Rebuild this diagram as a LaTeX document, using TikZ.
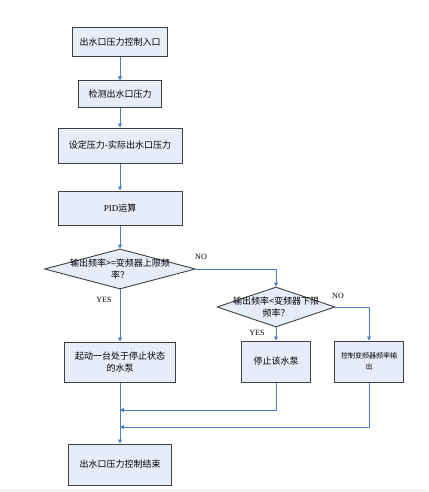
\documentclass[tikz,border=0pt]{standalone}
\usepackage{fontspec}
\setmainfont{Liberation Serif}
\newfontfamily\cjk{Noto Sans CJK SC}
\usetikzlibrary{shapes.geometric,arrows.meta}
\definecolor{boxfill}{RGB}{230,237,248}
\definecolor{boxline}{RGB}{64,64,64}
\definecolor{flowblue}{RGB}{74,126,199}
\tikzset{
    procbox/.style={draw=boxline, line width=1pt, fill=boxfill, inner sep=1pt, align=center, font=\cjk\fontsize{9}{12}\selectfont},
    decbox/.style={diamond, draw=boxline, line width=0.9pt, fill=boxfill, inner sep=0pt},
    flow/.style={draw=flowblue, line width=0.9pt, -{Triangle[length=4pt,width=4pt]}},
    tag/.style={font=\fontsize{8}{9}\selectfont}
}
\begin{document}
\begin{tikzpicture}[x=1pt, y=-1pt]
    \useasboundingbox (0,0) rectangle (428,492);
    \draw[color={rgb,255:red,236;green,236;blue,228}, line width=1.5pt] (0,490.5) -- (428,490.5);

    % main column
    \node[procbox, minimum width=95pt, minimum height=29pt] (entry) at (120,42.5) {出水口压力控制入口};
    \node[procbox, minimum width=83pt, minimum height=27pt] (detect) at (120,94.5) {检测出水口压力};
    \node[procbox, minimum width=124pt, minimum height=35pt] (diff) at (120,145.5) {设定压力-实际出水口压力};
    \node[procbox, minimum width=124pt, minimum height=34pt] (pid) at (120,208) {{\rmfamily PID}运算};
    \node[decbox, minimum width=151pt, minimum height=40pt,
        label={[align=center, font=\cjk\fontsize{9}{12}\selectfont]center:{输出频率>=变频器上限频\\率？}}] (upper) at (120,269) {};
    \node[procbox, minimum width=111pt, minimum height=40pt] (startpump) at (120,362) {起动一台处于停止状态\\的水泵};
    \node[procbox, minimum width=103pt, minimum height=41pt] (finish) at (120,464.5) {出水口压力控制结束};

    % right branch
    \node[decbox, minimum width=118pt, minimum height=40pt,
        label={[align=center, font=\cjk\fontsize{9}{12}\selectfont]center:{输出频率<变频器下限\\频率？}}] (lower) at (276,307) {};
    \node[procbox, minimum width=69pt, minimum height=41pt] (stoppump) at (276,361.5) {停止该水泵};
    \node[procbox, minimum width=69pt, minimum height=41pt,
        font=\cjk\fontsize{7}{11}\selectfont] (freqout) at (369,361.5) {控制变频器频率输\\出};

    \coordinate (join1) at (120,410);
    \coordinate (join2) at (120,427);

    \draw[flow] (entry) -- (detect);
    \draw[flow] (detect) -- (diff);
    \draw[flow] (diff) -- (pid);
    \draw[flow] (pid) -- (upper);
    \draw[flow] (upper) -- (startpump);
    \draw[flow] (upper.east) -| (lower.north);
    \draw[flow] (lower) -- (stoppump);
    \draw[flow] (lower.east) -| (freqout.north);
    \draw[flow] (stoppump.south) |- (join1);
    \draw[flow] (freqout.south) |- (join2);
    \draw[flow] (startpump) -- (finish);

    \node[tag] (no1) at (201,257) {NO};
    \node[tag] (yes1) at (104,300) {YES};
    \node[tag] (no2) at (338,296) {NO};
    \node[tag] (yes2) at (257,333) {YES};
\end{tikzpicture}
\end{document}
